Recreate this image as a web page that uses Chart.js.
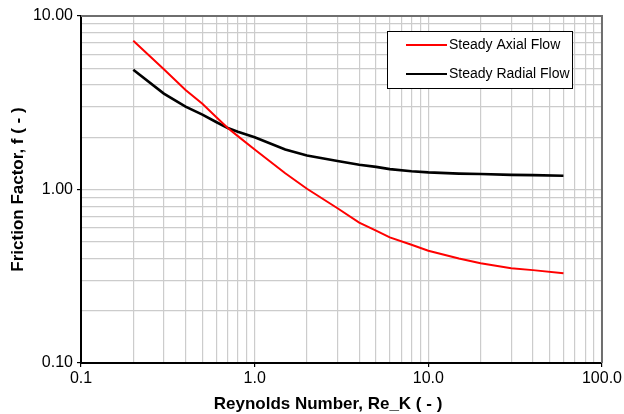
<!DOCTYPE html>
<html>
<head>
<meta charset="utf-8">
<script src="https://cdn.jsdelivr.net/npm/chart.js@4/dist/chart.umd.min.js"></script>
<style>
  html, body { margin: 0; padding: 0; background: #fff; }
  #wrap { position: relative; width: 624px; height: 414px; }
</style>
</head>
<body>
<div id="wrap"><canvas id="c" width="624" height="414"></canvas></div>
<script>
// Reynolds number sample points
const reynolds = [0.2, 0.3, 0.4, 0.5, 0.6, 0.7, 0.8, 1, 1.5, 2, 3, 4, 5, 6, 8, 10, 15, 20, 30, 40, 60];
// Friction factor, steady axial flow
const axialFriction = [7.2, 4.93, 3.75, 3.12, 2.62, 2.26, 2.03, 1.70, 1.24, 1.01, 0.78, 0.645, 0.58, 0.53, 0.48, 0.444, 0.40, 0.376, 0.352, 0.343, 0.329];
// Friction factor, steady radial flow
const radialFriction = [4.9, 3.57, 3.0, 2.7, 2.45, 2.26, 2.15, 2.0, 1.70, 1.57, 1.46, 1.39, 1.35, 1.31, 1.275, 1.255, 1.235, 1.228, 1.215, 1.21, 1.20];

const seriesLabels = ['Steady Axial Flow', 'Steady Radial Flow'];

// Axis decades and their printed labels
const xMajorTicks = [0.1, 1, 10, 100];
const xTickLabels = ['0.1', '1.0', '10.0', '100.0'];
const yMajorTicks = [0.1, 1, 10];
const yTickLabels = ['0.10', '1.00', '10.00'];

const xTitle = 'Reynolds Number, Re_K ( - )';
const yTitle = 'Friction Factor, f ( - )';

const FONT = '"Liberation Sans", Arial, Helvetica, sans-serif';

// major decades plus the 2..9 subdivisions in between
function logGridValues(majors) {
  const vals = [];
  for (let i = 0; i < majors.length; i++) {
    vals.push(majors[i]);
    if (i < majors.length - 1) {
      for (let k = 2; k <= 9; k++) vals.push(+(majors[i] * k).toPrecision(6));
    }
  }
  return vals;
}
function isMajorOf(majors, v) {
  return majors.some(m => Math.abs(m - v) / m < 1e-6);
}
function labelFor(majors, labels, v) {
  const i = majors.findIndex(m => Math.abs(m - v) / m < 1e-6);
  return i >= 0 ? labels[i] : '';
}

const toPoints = ys => reynolds.map((x, i) => ({ x: x, y: ys[i] }));

// frame on the top and right edges, axis titles and the boxed legend
const decorations = {
  id: 'decorations',
  beforeDatasetsDraw(chart) {
    const { ctx, chartArea: a } = chart;
    ctx.save();
    ctx.strokeStyle = '#6e6e6e';
    ctx.lineWidth = 2;
    ctx.beginPath();
    ctx.moveTo(a.left, a.top);
    ctx.lineTo(a.right, a.top);
    ctx.lineTo(a.right, a.bottom);
    ctx.stroke();
    ctx.restore();
  },
  afterDraw(chart) {
    const { ctx, chartArea: a } = chart;
    ctx.save();
    // axis titles
    ctx.fillStyle = '#000';
    ctx.font = 'bold 17px ' + FONT;
    ctx.textAlign = 'center';
    ctx.textBaseline = 'middle';
    ctx.fillText(xTitle, a.left + 247, a.bottom + 41);
    ctx.save();
    ctx.translate(18, (a.top + a.bottom) / 2);
    ctx.rotate(-Math.PI / 2);
    ctx.fillText(yTitle, 0, 0);
    ctx.restore();

    // legend box
    const lx = a.left + 306, ly = a.top + 15, lw = 185, lh = 57;
    ctx.fillStyle = '#fff';
    ctx.fillRect(lx, ly, lw, lh);
    ctx.strokeStyle = '#000';
    ctx.lineWidth = 1;
    ctx.strokeRect(lx + 0.5, ly + 0.5, lw, lh);
    ctx.font = '14px ' + FONT;
    ctx.textAlign = 'left';
    ctx.textBaseline = 'middle';
    chart.data.datasets.forEach((ds, i) => {
      const yy = ly + 14 + i * 29;
      ctx.strokeStyle = ds.borderColor;
      ctx.lineWidth = 2;
      ctx.beginPath();
      ctx.moveTo(lx + 19, yy);
      ctx.lineTo(lx + 60, yy);
      ctx.stroke();
      ctx.fillStyle = '#000';
      ctx.fillText(ds.label, lx + 62, yy);
    });
    ctx.restore();
  }
};

new Chart(document.getElementById('c'), {
  type: 'line',
  data: {
    datasets: [
      {
        label: seriesLabels[0],
        data: toPoints(axialFriction),
        borderColor: '#ff0000',
        borderWidth: 2,
        pointRadius: 0,
        tension: 0,
        fill: false
      },
      {
        label: seriesLabels[1],
        data: toPoints(radialFriction),
        borderColor: '#000000',
        borderWidth: 2.6,
        pointRadius: 0,
        tension: 0,
        fill: false
      }
    ]
  },
  options: {
    responsive: false,
    animation: false,
    devicePixelRatio: 1,
    layout: { padding: { top: 16, right: 21, left: 0, bottom: 0 } },
    plugins: { legend: { display: false }, tooltip: { enabled: false } },
    scales: {
      x: {
        type: 'logarithmic',
        min: xMajorTicks[0],
        max: xMajorTicks[xMajorTicks.length - 1],
        afterBuildTicks(scale) {
          scale.ticks = logGridValues(xMajorTicks).map(v => ({ value: v, major: isMajorOf(xMajorTicks, v) }));
        },
        afterFit(scale) { scale.height = 51; },
        ticks: {
          autoSkip: false,
          maxRotation: 0,
          padding: 2,
          color: '#000',
          font: { family: FONT, size: 16 },
          callback: v => labelFor(xMajorTicks, xTickLabels, v)
        },
        grid: {
          color: '#cccccc',
          lineWidth: 1.2,
          tickLength: 4,
          tickColor: c => (c.tick && isMajorOf(xMajorTicks, c.tick.value)) ? '#000' : 'rgba(0,0,0,0)'
        },
        border: { display: true, color: '#000', width: 2 }
      },
      y: {
        type: 'logarithmic',
        min: yMajorTicks[0],
        max: yMajorTicks[yMajorTicks.length - 1],
        afterBuildTicks(scale) {
          scale.ticks = logGridValues(yMajorTicks).map(v => ({ value: v, major: isMajorOf(yMajorTicks, v) }));
        },
        afterFit(scale) { scale.width = 81; },
        ticks: {
          autoSkip: false,
          padding: 4,
          color: '#000',
          font: { family: FONT, size: 16 },
          callback: v => labelFor(yMajorTicks, yTickLabels, v)
        },
        grid: {
          color: '#cccccc',
          lineWidth: 1.2,
          tickLength: 4,
          tickColor: c => (c.tick && isMajorOf(yMajorTicks, c.tick.value)) ? '#000' : 'rgba(0,0,0,0)'
        },
        border: { display: true, color: '#000', width: 2 }
      }
    }
  },
  plugins: [decorations]
});
</script>
</body>
</html>
